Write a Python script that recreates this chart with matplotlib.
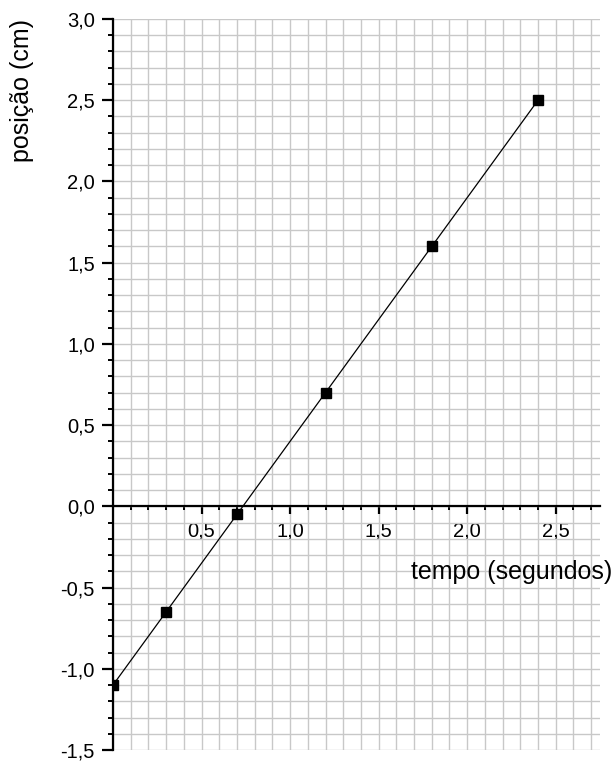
import matplotlib
matplotlib.use("Agg")
import matplotlib.pyplot as plt
from matplotlib.ticker import MultipleLocator, FixedLocator, FuncFormatter

plt.rcParams['font.family'] = ['Liberation Sans', 'DejaVu Sans']

tempo = [0.0, 0.3, 0.7, 1.2, 1.8, 2.4]
posicao = [-1.1, -0.65, -0.05, 0.7, 1.6, 2.5]
xticks = [0.5, 1.0, 1.5, 2.0, 2.5]
yticks = [-1.5, -1.0, -0.5, 0.0, 0.5, 1.0, 1.5, 2.0, 2.5, 3.0]

fig = plt.figure(figsize=(6.13, 7.62), dpi=100)
ax = fig.add_axes([113 / 613, 12 / 762, 487 / 613, 731 / 762])

ax.plot(tempo, posicao, color='black', lw=0.9, zorder=3)
ax.plot(tempo, posicao, ls='none', marker='s', ms=7.3, color='black', zorder=4)

ax.set_xlim(0, 2.75)
ax.set_ylim(-1.5, 3.0)

ax.xaxis.set_major_locator(FixedLocator(xticks))
ax.xaxis.set_minor_locator(MultipleLocator(0.1))
ax.yaxis.set_major_locator(FixedLocator(yticks))
ax.yaxis.set_minor_locator(MultipleLocator(0.1))

fmt = FuncFormatter(lambda v, p: f"{v:.1f}".replace('.', ',').replace('-0,0', '0,0'))
ax.xaxis.set_major_formatter(fmt)
ax.yaxis.set_major_formatter(fmt)

ax.grid(True, which='both', color='#c8c8c8', lw=1.0, zorder=0)
ax.set_axisbelow(True)

for s in ['top', 'right']:
    ax.spines[s].set_visible(False)
ax.spines['bottom'].set_position(('data', 0))
ax.spines['left'].set_linewidth(1.6)
ax.spines['bottom'].set_linewidth(1.6)

ax.tick_params(axis='y', which='major', direction='out', length=8, width=1.6, labelsize=14.5, pad=5)
ax.tick_params(axis='y', which='minor', direction='out', length=3.6, width=1.4)
ax.tick_params(axis='x', which='major', direction='out', length=5.8, width=1.6, labelsize=14.5, pad=5)
ax.tick_params(axis='x', which='minor', direction='out', length=3, width=1.4)

fig.text(0.998, 1 - 572 / 762, 'tempo (segundos)', ha='right', va='center', fontsize=18)
fig.text(22 / 613, 1 - 90 / 762, 'posição (cm)', ha='center', va='center', rotation=90, fontsize=18)

fig.savefig('out.png', dpi=100)
